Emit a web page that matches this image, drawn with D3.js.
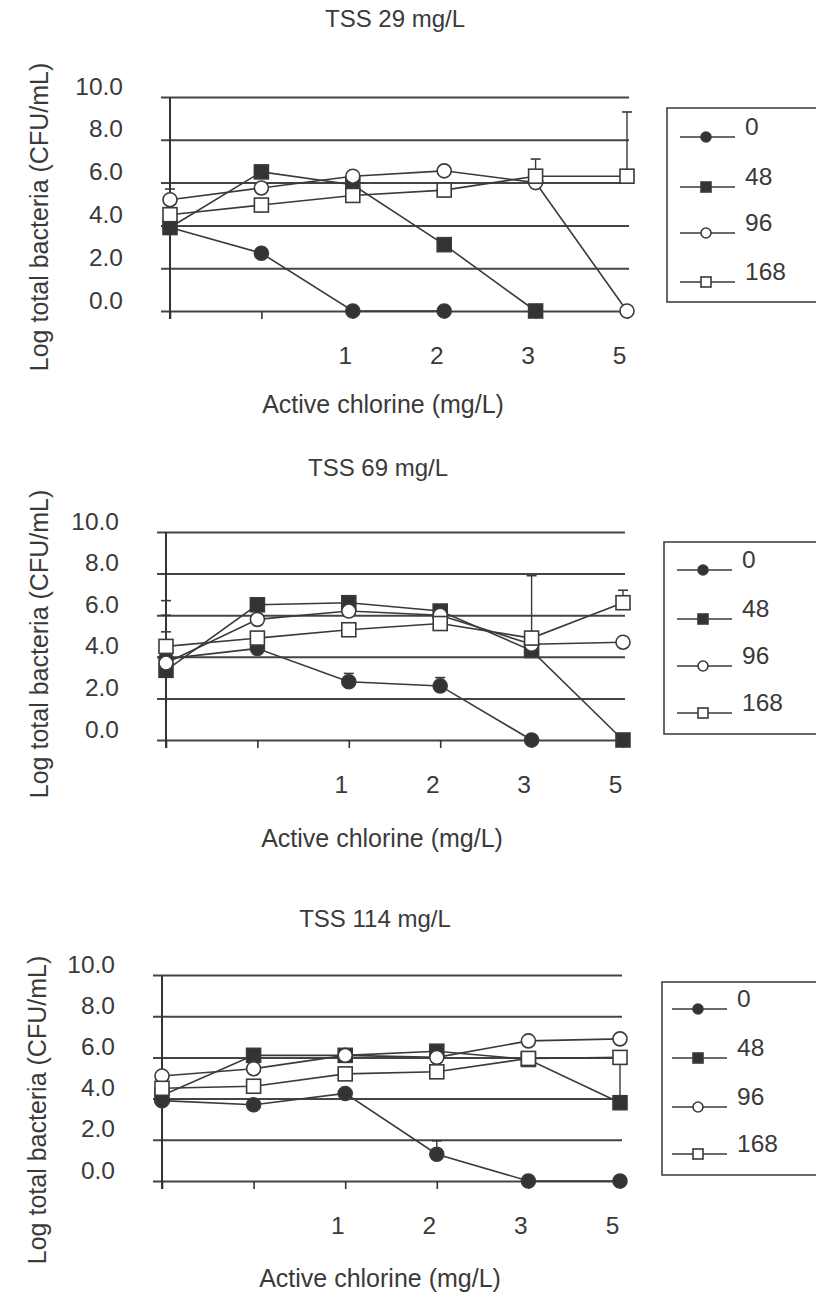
<!DOCTYPE html>
<html>
<head>
<meta charset="utf-8">
<script src="https://cdn.jsdelivr.net/npm/d3@7"></script>
<style>
  body { margin: 0; background: #fff; }
  text { font-family: "Liberation Sans", Arial, sans-serif; fill: #3a3a3a; }
</style>
</head>
<body>
<div id="chart"></div>
<script>
// chlorine doses on the x axis (first two have no printed label)
var doses = ["0", "0.5", "1", "2", "3", "5"];
var doseLabels = ["", "", "1", "2", "3", "5"];
var seriesNames = ["0", "48", "96", "168"];
var yTicks = [0, 2, 4, 6, 8, 10];
var titles = ["TSS 29 mg/L", "TSS 69 mg/L", "TSS 114 mg/L"];

// TSS 29 mg/L
var tss29_0 = [3.9, 2.7, 0, 0, null, null];
var tss29_48 = [3.9, 6.5, 5.9, 3.1, 0, null];
var tss29_96 = [5.2, 5.75, 6.3, 6.55, 6.0, 0];
var tss29_168 = [4.5, 4.95, 5.4, 5.65, 6.3, 6.3];
var tss29_err96 = [0.5, null, null, null, null, null];
var tss29_err168 = [null, null, null, null, 0.8, 3.0];

// TSS 69 mg/L
var tss69_0 = [3.9, 4.4, 2.8, 2.6, 0, null];
var tss69_48 = [3.35, 6.5, 6.6, 6.2, 4.3, 0];
var tss69_96 = [3.7, 5.8, 6.2, 6.0, 4.6, 4.7];
var tss69_168 = [4.5, 4.9, 5.3, 5.6, 4.9, 6.6];
var tss69_err0 = [2.1, null, 0.4, 0.4, null, null];
var tss69_err48 = [3.35, null, null, null, null, null];
var tss69_err168 = [0.7, null, null, null, 3.0, 0.6];

// TSS 114 mg/L
var tss114_0 = [3.9, 3.7, 4.25, 1.3, 0, 0];
var tss114_48 = [4.15, 6.1, 6.1, 6.3, 5.9, 3.8];
var tss114_96 = [5.1, 5.45, 6.1, 6.0, 6.8, 6.9];
var tss114_168 = [4.5, 4.6, 5.2, 5.3, 5.95, 6.0];
var tss114_err0 = [null, null, null, 0.65, null, null];
var tss114_err48 = [null, null, null, null, null, 2.1];

var panelData = [
    [tss29_0, tss29_48, tss29_96, tss29_168],
    [tss69_0, tss69_48, tss69_96, tss69_168],
    [tss114_0, tss114_48, tss114_96, tss114_168]
];
var panelErrors = [
    [null, null, tss29_err96, tss29_err168],
    [tss69_err0, tss69_err48, null, tss69_err168],
    [tss114_err0, tss114_err48, null, null]
];

// page layout of each panel (pixels)
var layout = [
    {x0: 170, x5: 627, yBot: 311, yTop: 97, titleX: 395, titleY: 27, xlabX: 383, xlabY: 413,
     ylabX: 48, ylabY: 217, legX: 667, legY: 108, legH: 194, rows: [29, 79, 125, 174], mx: 706},
    {x0: 166, x5: 623, yBot: 740, yTop: 532, titleX: 378, titleY: 476, xlabX: 382, xlabY: 847,
     ylabX: 48, ylabY: 644, legX: 664, legY: 542, legH: 192, rows: [28, 77, 124, 171], mx: 703},
    {x0: 162, x5: 620, yBot: 1181, yTop: 975, titleX: 375, titleY: 927, xlabX: 380, xlabY: 1287,
     ylabX: 46, ylabY: 1110, legX: 662, legY: 982, legH: 193, rows: [27, 76, 125, 172], mx: 698}
];

var ink = "#3a3a3a";
var markR = 7, markS = 14;

var svg = d3.select("#chart").append("svg")
    .attr("width", 816)
    .attr("height", 1294);

function drawMarker(g, type, cx, cy, big) {
    var r = big ? markR : 5, s = big ? markS : 10;
    if (type == 0 || type == 2) {
        g.append("circle")
            .attr("cx", cx).attr("cy", cy).attr("r", r)
            .attr("fill", type == 0 ? "#333" : "#fff")
            .attr("stroke", ink).attr("stroke-width", 1.6);
    } else {
        g.append("rect")
            .attr("x", cx - s / 2).attr("y", cy - s / 2)
            .attr("width", s).attr("height", s)
            .attr("fill", type == 1 ? "#333" : "#fff")
            .attr("stroke", ink).attr("stroke-width", 1.6);
    }
}

function drawPanel(p) {
    var L = layout[p];
    var g = svg.append("g");

    var x = d3.scalePoint().domain(doses).range([L.x0, L.x5]);
    var y = d3.scaleLinear().domain([0, 10]).range([L.yBot, L.yTop]);

    // gridlines + y labels
    var yAxis = g.append("g")
        .attr("transform", "translate(" + (L.x0 - 9) + ",0)")
        .call(d3.axisLeft(y).tickValues(yTicks)
            .tickSize(-(L.x5 - L.x0 + 11))
            .tickPadding(38)
            .tickFormat(d3.format(".1f")));
    yAxis.select(".domain").remove();
    yAxis.selectAll(".tick line").attr("stroke", "#444").attr("stroke-width", 2);
    yAxis.selectAll(".tick text")
        .attr("dy", null)
        .attr("y", -3)
        .style("font-size", "24.5px")
        .attr("fill", ink);

    // vertical axis line
    g.append("line")
        .attr("x1", L.x0).attr("x2", L.x0)
        .attr("y1", y(10)).attr("y2", y(0) + 8)
        .attr("stroke", "#333").attr("stroke-width", 2);

    // x ticks and labels
    var xAxis = g.append("g")
        .attr("transform", "translate(0," + y(0) + ")")
        .call(d3.axisBottom(x).tickSize(8).tickPadding(28)
            .tickFormat(function (d, i) { return doseLabels[i]; }));
    xAxis.select(".domain").remove();
    xAxis.selectAll(".tick line").attr("stroke", "#333").attr("stroke-width", 1.6);
    xAxis.selectAll(".tick text")
        .attr("dx", -8)
        .style("font-size", "24.5px")
        .attr("fill", ink);

    // lines
    var line = d3.line()
        .defined(function (d) { return d != null; })
        .x(function (d, i) { return x(doses[i]); })
        .y(function (d) { return y(d); });
    panelData[p].forEach(function (vals) {
        g.append("path")
            .attr("d", line(vals))
            .attr("fill", "none")
            .attr("stroke", ink)
            .attr("stroke-width", 1.6);
    });

    // error bars (upper only)
    panelErrors[p].forEach(function (errs, s) {
        if (!errs) return;
        errs.forEach(function (e, i) {
            var v = panelData[p][s][i];
            if (e == null || v == null) return;
            var cx = x(doses[i]);
            g.append("line")
                .attr("x1", cx).attr("x2", cx)
                .attr("y1", y(v)).attr("y2", y(v + e))
                .attr("stroke", ink).attr("stroke-width", 1.4);
            g.append("line")
                .attr("x1", cx - 5).attr("x2", cx + 5)
                .attr("y1", y(v + e)).attr("y2", y(v + e))
                .attr("stroke", ink).attr("stroke-width", 1.6);
        });
    });

    // markers
    panelData[p].forEach(function (vals, s) {
        vals.forEach(function (v, i) {
            if (v == null) return;
            drawMarker(g, s, x(doses[i]), y(v), true);
        });
    });

    // titles
    g.append("text")
        .attr("x", L.titleX).attr("y", L.titleY)
        .attr("text-anchor", "middle")
        .style("font-size", "24px")
        .text(titles[p]);
    g.append("text")
        .attr("x", L.xlabX).attr("y", L.xlabY)
        .attr("text-anchor", "middle")
        .style("font-size", "25px")
        .text("Active chlorine (mg/L)");
    g.append("text")
        .attr("transform", "translate(" + L.ylabX + "," + L.ylabY + ") rotate(-90)")
        .attr("text-anchor", "middle")
        .style("font-size", "25px")
        .text("Log total bacteria (CFU/mL)");

    // legend, box runs off the right edge
    var leg = g.append("g").attr("transform", "translate(" + L.legX + "," + L.legY + ")");
    leg.append("rect")
        .attr("width", 200).attr("height", L.legH)
        .attr("fill", "none").attr("stroke", "#444").attr("stroke-width", 1.6);
    seriesNames.forEach(function (name, s) {
        var ry = L.rows[s];
        var mx = L.mx - L.legX;
        leg.append("line")
            .attr("x1", mx - 26).attr("x2", mx + 29)
            .attr("y1", ry).attr("y2", ry)
            .attr("stroke", ink).attr("stroke-width", 1.6);
        drawMarker(leg, s, mx, ry, false);
        leg.append("text")
            .attr("x", mx + 39).attr("y", ry - 2)
            .style("font-size", "24.5px")
            .text(name);
    });
}

for (var p = 0; p < 3; p++) drawPanel(p);
</script>
</body>
</html>
